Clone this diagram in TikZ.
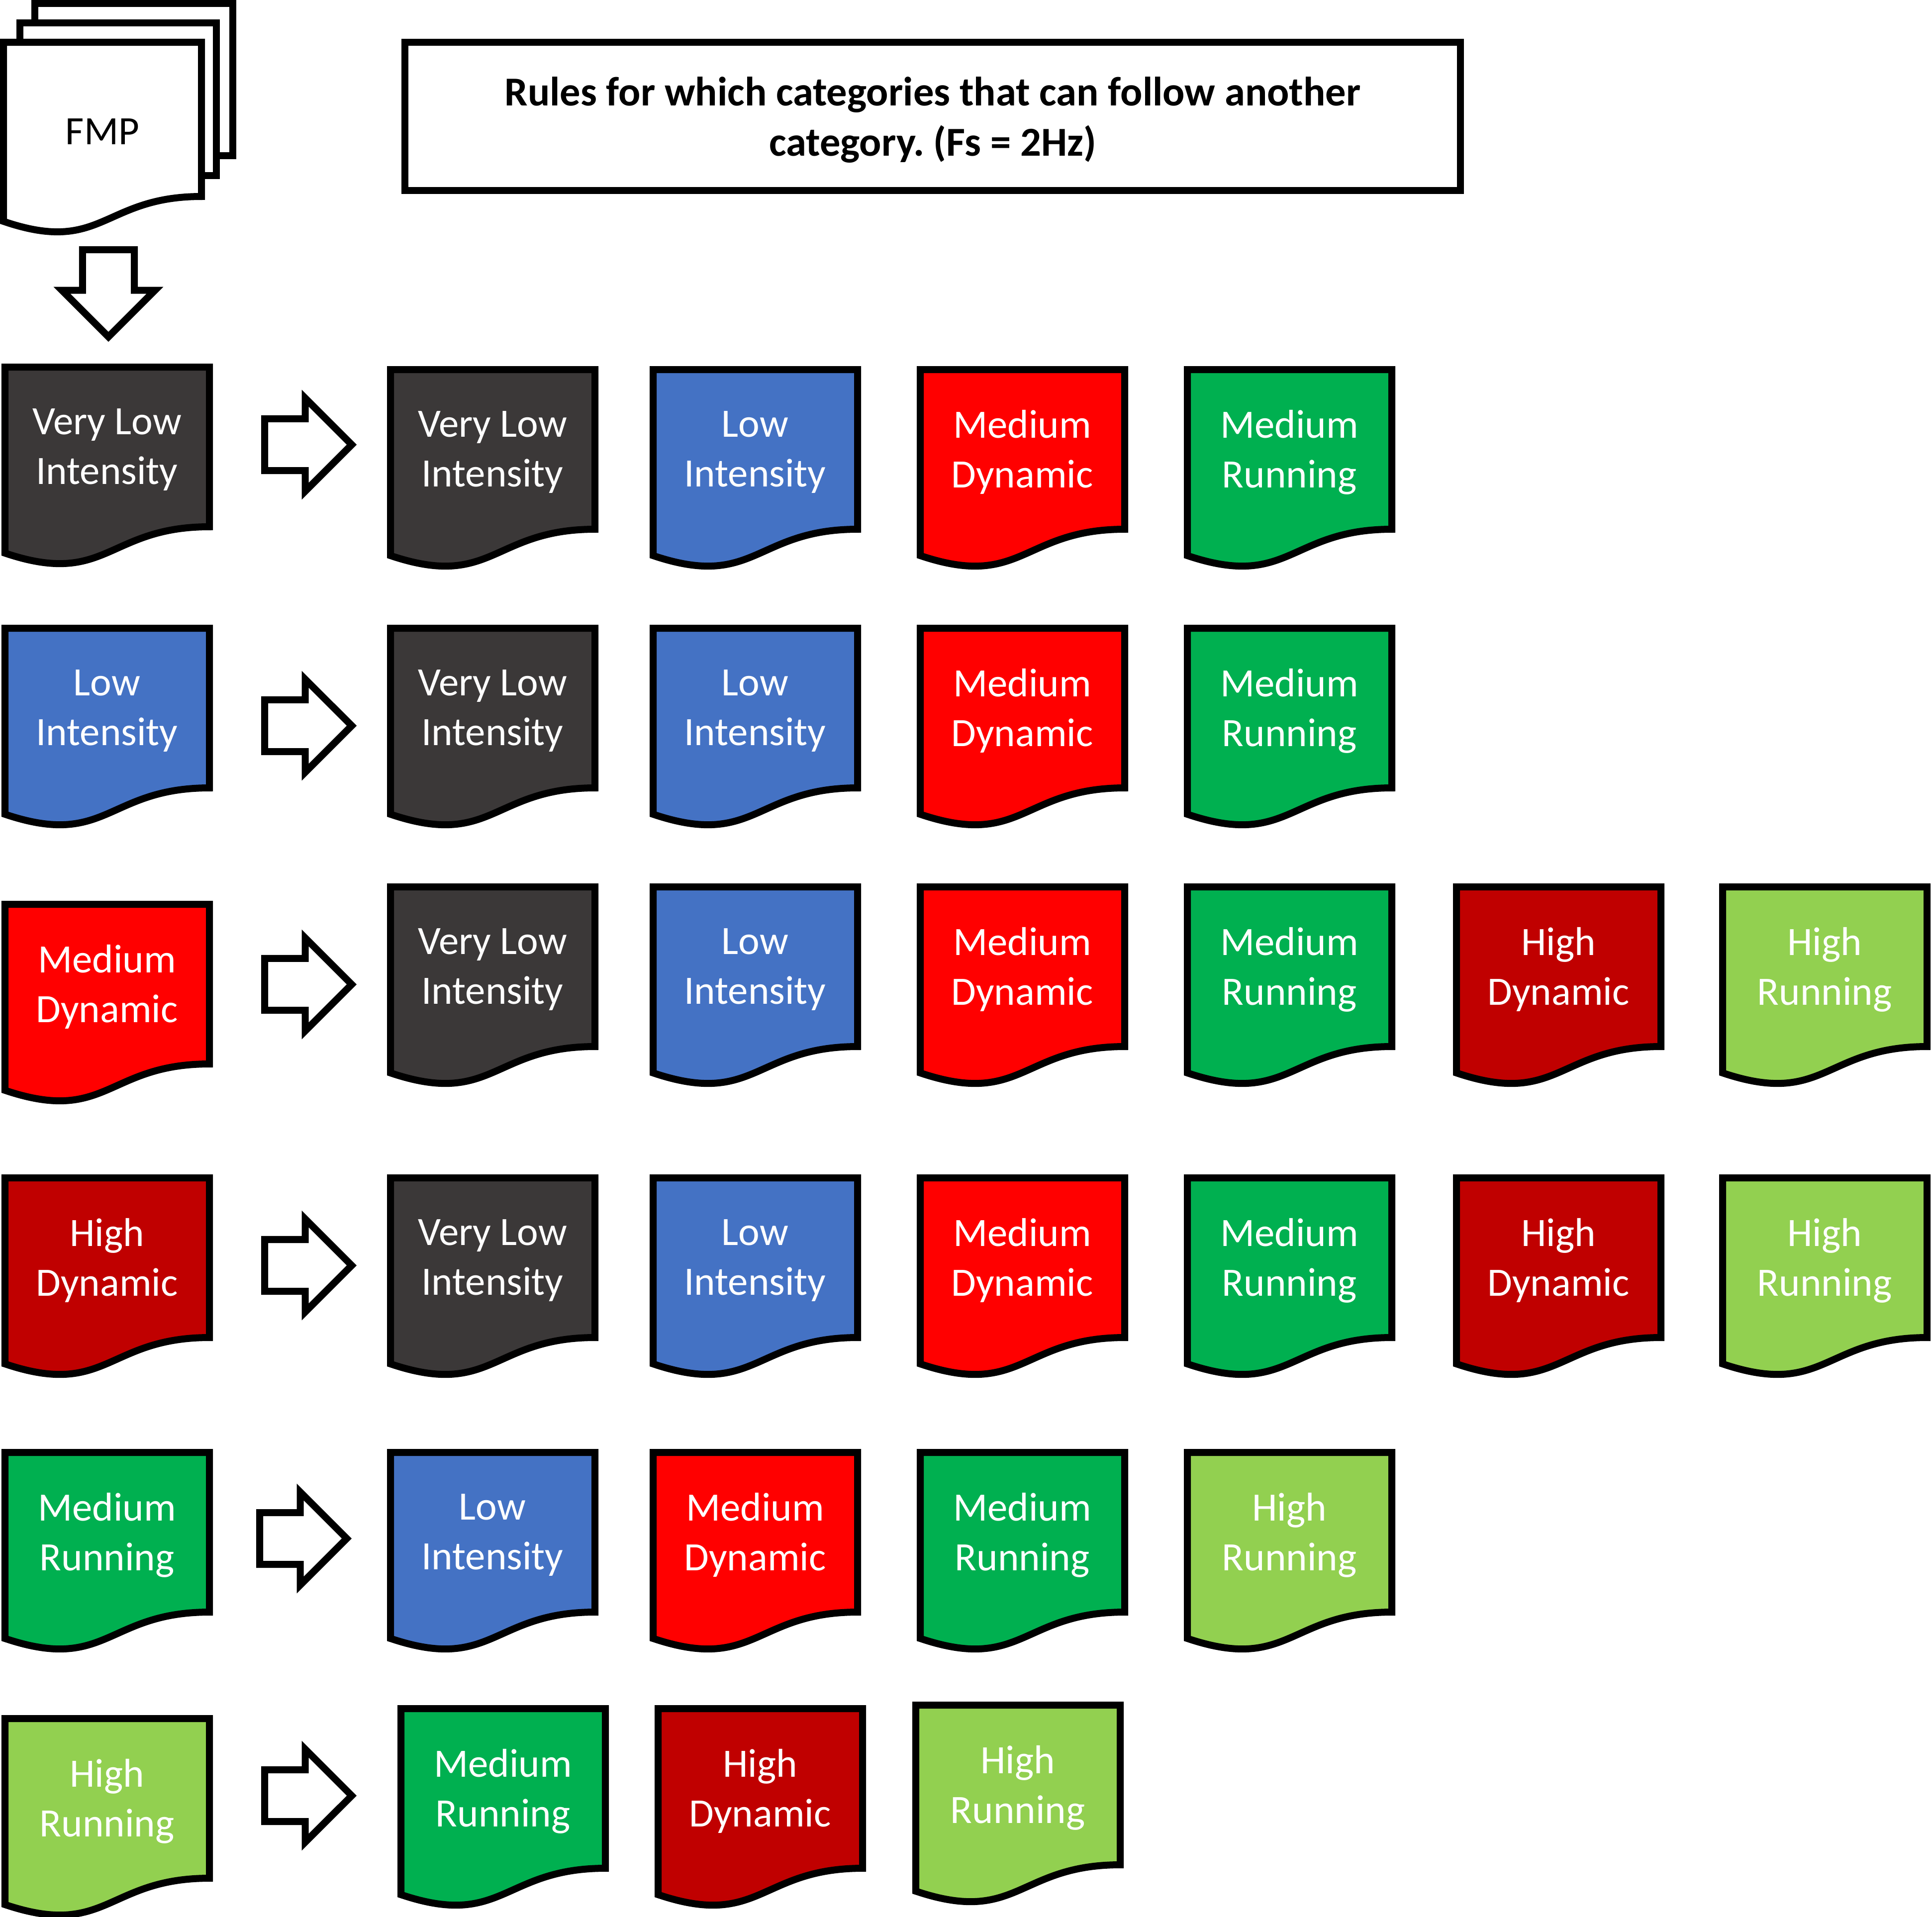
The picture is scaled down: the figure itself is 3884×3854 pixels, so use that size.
\documentclass[tikz,border=0pt]{standalone}
\usepackage{fontspec}
\setmainfont{Carlito}
\usepackage{tikz}
\usetikzlibrary{positioning, shapes.arrows}
\frenchspacing

\begin{document}
\begin{tikzpicture}[x=0.01cm, y=0.01cm,
    every node/.style={font=\fontsize{23}{28.5}\selectfont},
    docline/.style={line width=0.14cm, draw=black},
    doctext/.style={text=white, align=center},
    blockarrow/.style={single arrow, draw=black, line width=0.14cm, fill=white,
        minimum height=1.75cm, inner xsep=0pt, inner ysep=0.45cm,
        single arrow head extend=0.415cm, single arrow tip angle=90, anchor=tail},
    pics/catdoc/.style 2 args={code={
        \draw[docline, fill=#1] (0,0) -- (411,0) -- (411,-321)
            .. controls (205,-321) and (205,-443) .. (0,-374) -- cycle;
        \node[doctext] (-txt) at (205,-166) {#2};
    }}]
    \useasboundingbox (0,0) rectangle (3884,-3854);

    % Define colors
    \definecolor{vlowcolor}{RGB}{59, 56, 56}
    \definecolor{lowcolor}{RGB}{68, 114, 196}
    \definecolor{meddyncolor}{RGB}{255, 0, 0}
    \definecolor{medruncolor}{RGB}{0, 176, 80}
    \definecolor{highdyncolor}{RGB}{192, 0, 0}
    \definecolor{highruncolor}{RGB}{146, 208, 80}

    % FMP stack
    \draw[docline, fill=white] (70,-7) rectangle (468,-313);
    \draw[docline, fill=white] (40,-46) rectangle (435,-353);
    \draw[docline, fill=white] (7,-85) -- (405,-85) -- (405,-395)
        .. controls (206,-395) and (206,-513) .. (7,-445) -- cycle;
    \node (fmp) at (206,-265) {FMP};
    \node[blockarrow, rotate=-90] (fmparr) at (218,-495) {};

    % Title
    \node[draw, line width=0.14cm, minimum width=21.2cm, minimum height=2.97cm] (title) at (1875,-234) {};
    \node[align=center, font=\fontsize{23.5}{28.5}\selectfont\bfseries] (titletxt) at (1875,-241)
        {Rules for which categories that can follow another\\category. (Fs = 2Hz)};

    % Very Low Intensity
    \pic (src1) at (10,-738) {catdoc={vlowcolor}{Very Low\\Intensity}};
    \node[blockarrow] (arr1) at (525,-894) {};
    \pic (nxt1a) at (785,-743) {catdoc={vlowcolor}{Very Low\\Intensity}};
    \pic (nxt1b) at (1313,-743) {catdoc={lowcolor}{Low\\Intensity}};
    \pic (nxt1c) at (1850,-743) {catdoc={meddyncolor}{Medium\\Dynamic}};
    \pic (nxt1d) at (2387,-743) {catdoc={medruncolor}{Medium\\Running}};

    % Low Intensity
    \pic (src2) at (10,-1263) {catdoc={lowcolor}{Low\\Intensity}};
    \node[blockarrow] (arr2) at (525,-1459) {};
    \pic (nxt2a) at (785,-1263) {catdoc={vlowcolor}{Very Low\\Intensity}};
    \pic (nxt2b) at (1313,-1263) {catdoc={lowcolor}{Low\\Intensity}};
    \pic (nxt2c) at (1850,-1263) {catdoc={meddyncolor}{Medium\\Dynamic}};
    \pic (nxt2d) at (2387,-1263) {catdoc={medruncolor}{Medium\\Running}};

    % Medium Dynamic
    \pic (src3) at (10,-1818) {catdoc={meddyncolor}{Medium\\Dynamic}};
    \node[blockarrow] (arr3) at (525,-1979) {};
    \pic (nxt3a) at (785,-1783) {catdoc={vlowcolor}{Very Low\\Intensity}};
    \pic (nxt3b) at (1313,-1783) {catdoc={lowcolor}{Low\\Intensity}};
    \pic (nxt3c) at (1850,-1783) {catdoc={meddyncolor}{Medium\\Dynamic}};
    \pic (nxt3d) at (2387,-1783) {catdoc={medruncolor}{Medium\\Running}};
    \pic (nxt3e) at (2928,-1783) {catdoc={highdyncolor}{High\\Dynamic}};
    \pic (nxt3f) at (3463,-1783) {catdoc={highruncolor}{High\\Running}};

    % High Dynamic
    \pic (src4) at (10,-2368) {catdoc={highdyncolor}{High\\Dynamic}};
    \node[blockarrow] (arr4) at (525,-2544) {};
    \pic (nxt4a) at (785,-2368) {catdoc={vlowcolor}{Very Low\\Intensity}};
    \pic (nxt4b) at (1313,-2368) {catdoc={lowcolor}{Low\\Intensity}};
    \pic (nxt4c) at (1850,-2368) {catdoc={meddyncolor}{Medium\\Dynamic}};
    \pic (nxt4d) at (2387,-2368) {catdoc={medruncolor}{Medium\\Running}};
    \pic (nxt4e) at (2928,-2368) {catdoc={highdyncolor}{High\\Dynamic}};
    \pic (nxt4f) at (3463,-2368) {catdoc={highruncolor}{High\\Running}};

    % Medium Running
    \pic (src5) at (10,-2920) {catdoc={medruncolor}{Medium\\Running}};
    \node[blockarrow] (arr5) at (515,-3093) {};
    \pic (nxt5a) at (785,-2920) {catdoc={lowcolor}{Low\\Intensity}};
    \pic (nxt5b) at (1313,-2920) {catdoc={meddyncolor}{Medium\\Dynamic}};
    \pic (nxt5c) at (1850,-2920) {catdoc={medruncolor}{Medium\\Running}};
    \pic (nxt5d) at (2387,-2920) {catdoc={highruncolor}{High\\Running}};

    % High Running
    \pic (src6) at (10,-3455) {catdoc={highruncolor}{High\\Running}};
    \node[blockarrow] (arr6) at (525,-3610) {};
    \pic (nxt6a) at (806,-3435) {catdoc={medruncolor}{Medium\\Running}};
    \pic (nxt6b) at (1323,-3435) {catdoc={highdyncolor}{High\\Dynamic}};
    \pic (nxt6c) at (1841,-3428) {catdoc={highruncolor}{High\\Running}};

\end{tikzpicture}
\end{document}
